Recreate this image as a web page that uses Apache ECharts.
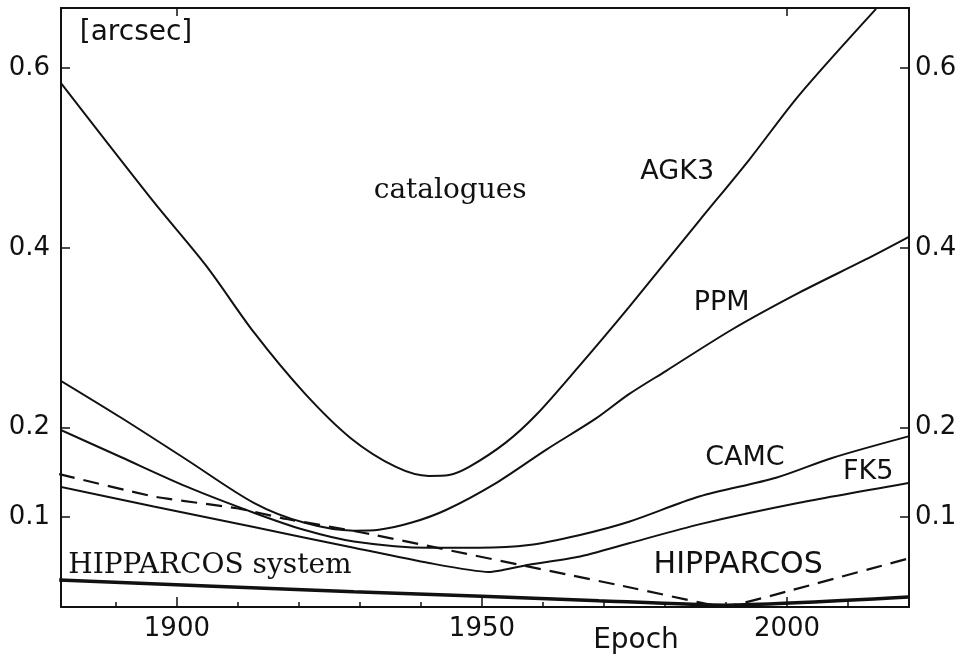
<!DOCTYPE html>
<html>
<head>
<meta charset="utf-8">
<script src="https://cdn.jsdelivr.net/npm/echarts@6/dist/echarts.min.js"></script>
<style>
  html, body { margin: 0; padding: 0; background: #fff; }
  #chart { width: 968px; height: 659px; }
</style>
</head>
<body>
<div id="chart"></div>
<script>
// values: epoch (years) and error (arcsec)
var agk3Years = [1880.8, 1896.2, 1904.9, 1912.6, 1920.8, 1928.5, 1935.9, 1941.3, 1944.6, 1947.9, 1953.9, 1958.9, 1965.9, 1974.1, 1985.6, 1993.8, 2002.0, 2014.6];
var agk3Err   = [0.585, 0.451, 0.379, 0.306, 0.239, 0.188, 0.156, 0.146, 0.147, 0.156, 0.183, 0.214, 0.268, 0.334, 0.430, 0.498, 0.570, 0.666];

var ppmYears = [1880.7, 1890.8, 1901.6, 1912.6, 1920.8, 1929.0, 1933.1, 1938.5, 1944.1, 1952.3, 1960.5, 1968.7, 1974.1, 1980.2, 1991.0, 2002.0, 2012.9, 2019.9];
var ppmErr   = [0.253, 0.211, 0.164, 0.116, 0.094, 0.085, 0.086, 0.094, 0.108, 0.138, 0.175, 0.210, 0.237, 0.263, 0.309, 0.350, 0.387, 0.412];

var camcYears = [1880.7, 1890.8, 1901.6, 1912.6, 1920.8, 1929.0, 1941.3, 1949.5, 1957.7, 1965.9, 1974.1, 1985.6, 1998.2, 2007.4, 2019.9];
var camcErr   = [0.198, 0.167, 0.134, 0.105, 0.086, 0.073, 0.066, 0.066, 0.069, 0.080, 0.095, 0.123, 0.144, 0.166, 0.190];

var fk5Years = [1880.7, 1896.2, 1912.6, 1929.0, 1941.3, 1951.1, 1953.3, 1957.7, 1965.9, 1974.1, 1985.6, 2002.0, 2019.9];
var fk5Err   = [0.134, 0.112, 0.089, 0.066, 0.049, 0.039, 0.041, 0.047, 0.056, 0.071, 0.092, 0.116, 0.138];

var hipYears = [1880.7, 1896.2, 1909.8, 1918.0, 1930.3, 1974.1, 1987.2, 1990.0, 1999.8, 2019.9];
var hipErr   = [0.148, 0.123, 0.110, 0.098, 0.083, 0.022, 0.003, 0.001, 0.017, 0.054];

var hipSysYears = [1880.7, 1929.0, 1950.0, 1969.2, 1990.0, 2019.9];
var hipSysErr   = [0.030, 0.017, 0.012, 0.007, 0.002, 0.011];

var decadeTicks = [1890, 1900, 1910, 1920, 1930, 1940, 1950, 1960, 1970, 1980, 1990, 2000, 2010];
var yearLabels = [1900, 1950, 2000];
var errTicks = [0.1, 0.2, 0.4, 0.6];

function pairs(xs, ys) {
  var out = [];
  for (var i = 0; i < xs.length; i++) out.push([xs[i], ys[i]]);
  return out;
}

var chart = echarts.init(document.getElementById('chart'));
var ink = '#111';
var sans = 'DejaVu Sans';

function curve(name, xs, ys, width, dashed, smooth) {
  return {
    name: name,
    type: 'line',
    xAxisIndex: 0,
    yAxisIndex: 0,
    data: pairs(xs, ys),
    symbol: 'none',
    smooth: smooth,
    silent: true,
    lineStyle: { color: ink, width: width, type: dashed ? [16, 9] : 'solid' }
  };
}

var option = {
  animation: false,
  backgroundColor: '#fff',
  grid: { left: 61, right: 59, top: 8, bottom: 52 },
  xAxis: [
    {
      type: 'value', min: 1881, max: 2020, position: 'bottom',
      axisLine: { show: true, lineStyle: { color: ink, width: 2 } },
      axisTick: { show: true, inside: true, length: 5, customValues: decadeTicks, lineStyle: { color: ink, width: 1.5 } },
      axisLabel: { customValues: yearLabels, color: ink, fontSize: 26, fontFamily: sans, margin: 9,
        formatter: function (v) { return String(v); } },
      splitLine: { show: false }
    },
    {
      type: 'value', min: 1881, max: 2020, position: 'bottom',
      axisLine: { show: false },
      axisTick: { show: true, inside: true, length: 10, customValues: yearLabels, lineStyle: { color: ink, width: 1.5 } },
      axisLabel: { show: false },
      splitLine: { show: false }
    },
    {
      type: 'value', min: 1881, max: 2020, position: 'top',
      axisLine: { show: true, lineStyle: { color: ink, width: 2 } },
      axisTick: { show: true, inside: true, length: 8, customValues: [1900, 2000], lineStyle: { color: ink, width: 1.5 } },
      axisLabel: { show: false },
      splitLine: { show: false }
    }
  ],
  yAxis: [
    {
      type: 'value', min: 0, max: 0.667, position: 'left',
      axisLine: { show: true, lineStyle: { color: ink, width: 2 } },
      axisTick: { show: true, inside: true, length: 9, customValues: errTicks, lineStyle: { color: ink, width: 1.5 } },
      axisLabel: { customValues: errTicks, color: ink, fontSize: 26, fontFamily: sans, margin: 11 },
      splitLine: { show: false }
    },
    {
      type: 'value', min: 0, max: 0.667, position: 'right',
      axisLine: { show: true, lineStyle: { color: ink, width: 2 } },
      axisTick: { show: true, inside: true, length: 9, customValues: errTicks, lineStyle: { color: ink, width: 1.5 } },
      axisLabel: { customValues: errTicks, color: ink, fontSize: 26, fontFamily: sans, margin: 6 },
      splitLine: { show: false }
    }
  ],
  series: [
    curve('AGK3', agk3Years, agk3Err, 2, false, 0.3),
    curve('PPM', ppmYears, ppmErr, 2, false, 0.3),
    curve('CAMC', camcYears, camcErr, 2, false, 0.3),
    curve('FK5', fk5Years, fk5Err, 2, false, 0.2),
    curve('HIPPARCOS', hipYears, hipErr, 2.2, true, 0.15),
    curve('HIPPARCOS system', hipSysYears, hipSysErr, 3.5, false, 0.2)
  ]
};
chart.setOption(option);

// annotations, anchored in data coordinates
var notes = [
  { text: 'catalogues', at: [1944.8, 0.463], font: 'DejaVu Serif', size: 28 },
  { text: 'AGK3', at: [1982.0, 0.484], font: sans, size: 27 },
  { text: 'PPM', at: [1989.3, 0.339], font: sans, size: 27 },
  { text: 'CAMC', at: [1993.1, 0.166], font: sans, size: 27 },
  { text: 'FK5', at: [2013.3, 0.150], font: sans, size: 27 },
  { text: 'HIPPARCOS', at: [1992.0, 0.046], font: sans, size: 30 },
  { text: 'HIPPARCOS system', at: [1905.4, 0.046], font: 'DejaVu Serif', size: 28 },
  { text: '[arcsec]', at: [1893.3, 0.640], font: sans, size: 28 }
];

var graphics = notes.map(function (n) {
  var p = chart.convertToPixel({ xAxisIndex: 0, yAxisIndex: 0 }, n.at);
  return {
    type: 'text', x: p[0], y: p[1], silent: true,
    style: { text: n.text, fill: ink, font: n.size + 'px "' + n.font + '"', align: 'center', verticalAlign: 'middle' }
  };
});
graphics.push({
  type: 'text', x: 636, y: 641, silent: true,
  style: { text: 'Epoch', fill: ink, font: '28px "' + sans + '"', align: 'center', verticalAlign: 'middle' }
});
chart.setOption({ graphic: graphics });
</script>
</body>
</html>
